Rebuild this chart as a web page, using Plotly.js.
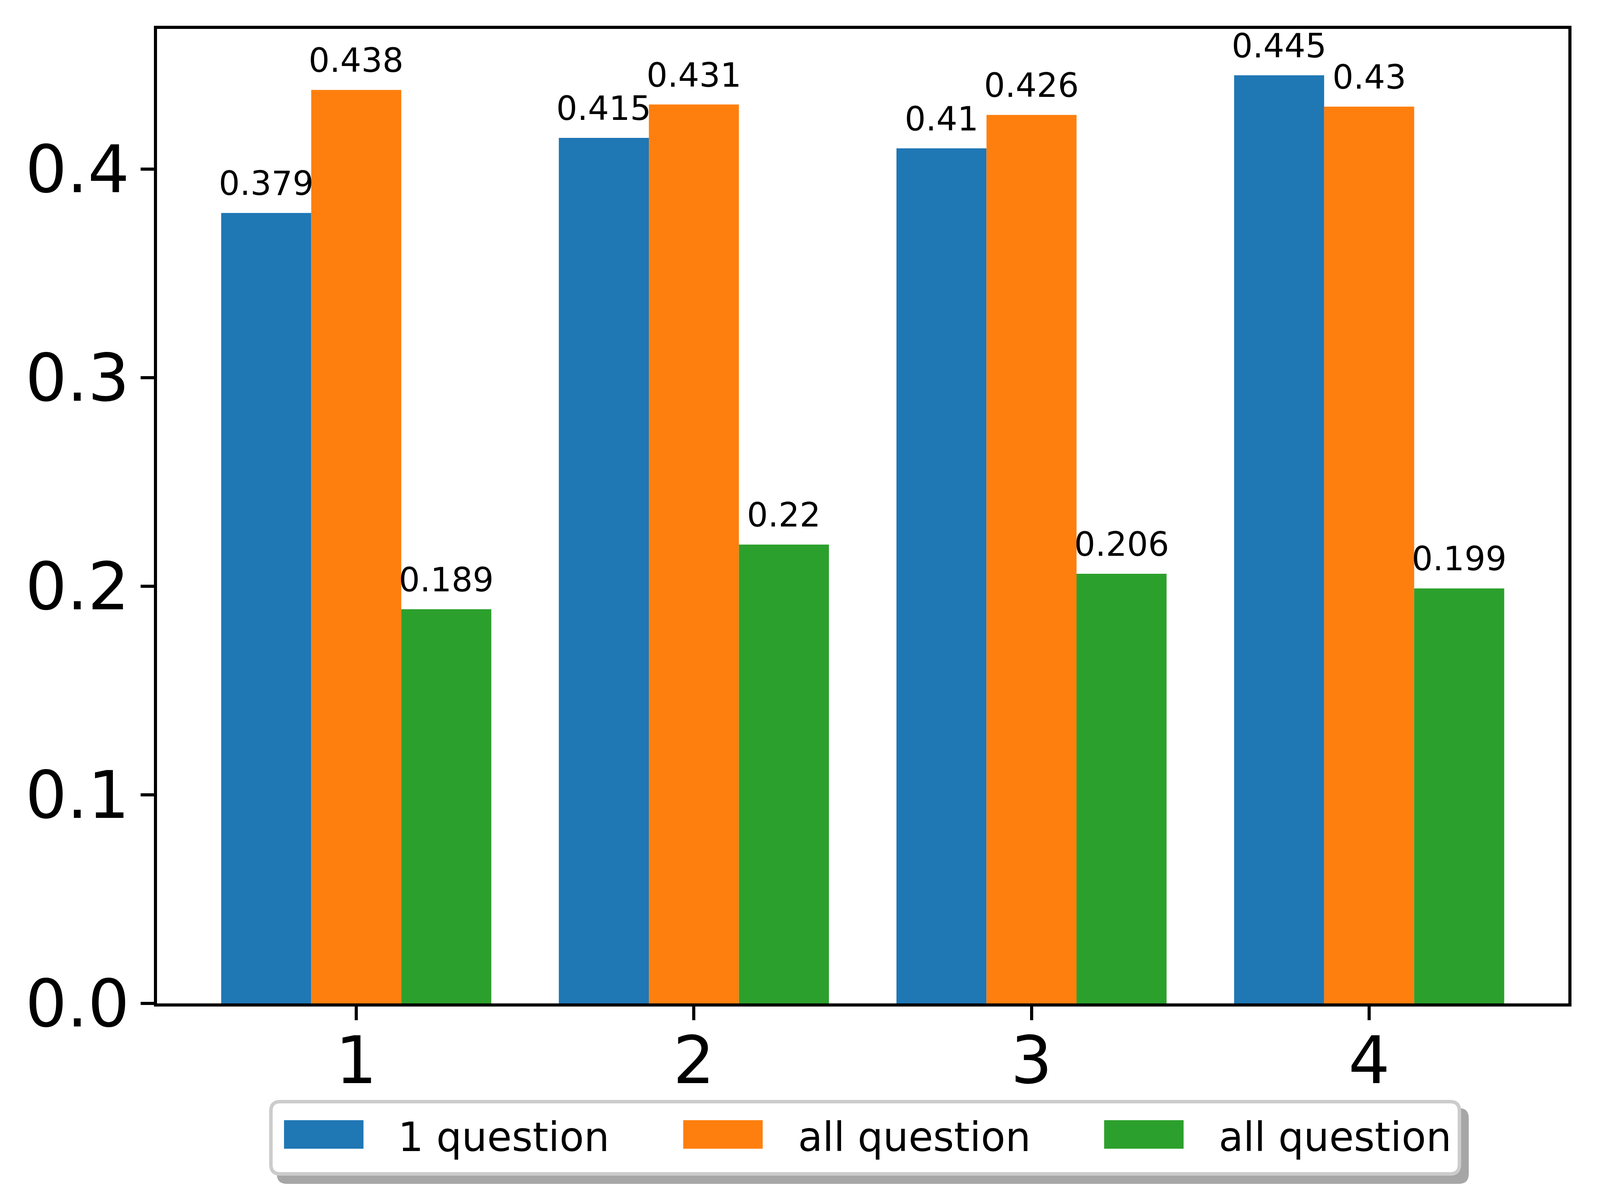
<!DOCTYPE html>
<html>
<head>
<meta charset="utf-8">
<script src="https://cdn.plot.ly/plotly-3.0.1.min.js"></script>
<style>html,body{margin:0;padding:0;background:#fff;overflow:hidden;}</style>
</head>
<body>
<div id="chart"></div>
<script>
// ---- data ----
const categories = [1, 2, 3, 4];
const seriesNames = ['1 question', 'all question', 'all question'];
const seriesA = [0.379, 0.415, 0.41, 0.445];
const seriesB = [0.438, 0.431, 0.426, 0.43];
const seriesC = [0.189, 0.22, 0.206, 0.199];
const colors = ['#1f77b4', '#ff7f0e', '#2ca02c'];
const yTickVals = [0, 0.1, 0.2, 0.3, 0.4];
const yTickText = ['0.0', '0.1', '0.2', '0.3', '0.4'];
const xTickText = ['1', '2', '3', '4'];

// ---- layout geometry (designed for 4208x3080, scaled to the actual viewport) ----
const REF_W = 4208, REF_H = 3080;
const FIG_W = window.innerWidth || REF_W;
const FIG_H = window.innerHeight || REF_H;
const sx = FIG_W / REF_W, sy = FIG_H / REF_H;
const fs = Math.sqrt(sx * sy);
const L = 413 * sx, R = 83 * sx, T = 74 * sy, B = 511 * sy;
const PW = FIG_W - L - R, PH = FIG_H - T - B;
const FONT = 'DejaVu Sans';
const groupW = 0.8;
const barW = groupW / 3;

document.getElementById('chart').style.width = FIG_W + 'px';
document.getElementById('chart').style.height = FIG_H + 'px';

// reference-pixel -> paper coordinates
function pxX(x) { return (x * sx - L) / PW; }
function pxY(y) { return (FIG_H - B - y * sy) / PH; }

function roundRect(x0, y0, x1, y1, r) {
  const X = pxX, Y = pxY;
  return 'M' + X(x0 + r) + ',' + Y(y0) +
    ' L' + X(x1 - r) + ',' + Y(y0) +
    ' Q' + X(x1) + ',' + Y(y0) + ' ' + X(x1) + ',' + Y(y0 + r) +
    ' L' + X(x1) + ',' + Y(y1 - r) +
    ' Q' + X(x1) + ',' + Y(y1) + ' ' + X(x1 - r) + ',' + Y(y1) +
    ' L' + X(x0 + r) + ',' + Y(y1) +
    ' Q' + X(x0) + ',' + Y(y1) + ' ' + X(x0) + ',' + Y(y1 - r) +
    ' L' + X(x0) + ',' + Y(y0 + r) +
    ' Q' + X(x0) + ',' + Y(y0) + ' ' + X(x0 + r) + ',' + Y(y0) + ' Z';
}

const allSeries = [seriesA, seriesB, seriesC];
const traces = allSeries.map((vals, j) => ({
  type: 'bar',
  name: seriesNames[j],
  x: categories,
  y: vals,
  marker: { color: colors[j], line: { width: 0 } },
  showlegend: false,
  hoverinfo: 'x+y'
}));

const annotations = [];
allSeries.forEach((vals, j) => {
  vals.forEach((v, i) => {
    annotations.push({
      x: categories[i] + (j - 1) * barW,
      y: v,
      xref: 'x', yref: 'y',
      text: String(v),
      showarrow: false,
      xanchor: 'center', yanchor: 'bottom',
      yshift: 24 * sy,
      font: { family: FONT, size: 86 * fs, color: '#000' }
    });
  });
});

// custom legend (matplotlib style, below axes)
const legendBox = { x0: 708, y0: 2816, x1: 3843, y1: 3010 };
const swatchX = [747, 1797, 2904];
const textX = [1045, 2097, 3203];
const swatchW = 209, swatchY0 = 2868, swatchY1 = 2941;

const shapes = [];
shapes.push({
  type: 'path', xref: 'paper', yref: 'paper',
  path: roundRect(legendBox.x0 + 20, legendBox.y0 + 21, legendBox.x1 + 20, legendBox.y1 + 21, 26),
  fillcolor: '#a6a6a6', line: { width: 0 }, layer: 'above'
});
shapes.push({
  type: 'path', xref: 'paper', yref: 'paper',
  path: roundRect(legendBox.x0 + 4.5, legendBox.y0 + 4.5, legendBox.x1 - 4.5, legendBox.y1 - 4.5, 24),
  fillcolor: '#ffffff', line: { color: '#cccccc', width: 9 }, layer: 'above'
});
seriesNames.forEach((n, j) => {
  shapes.push({
    type: 'rect', xref: 'paper', yref: 'paper',
    x0: pxX(swatchX[j]), x1: pxX(swatchX[j] + swatchW),
    y0: pxY(swatchY1), y1: pxY(swatchY0),
    fillcolor: colors[j], line: { width: 0 }, layer: 'above'
  });
  annotations.push({
    x: pxX(textX[j]), y: pxY(2911),
    xref: 'paper', yref: 'paper',
    text: n, showarrow: false,
    xanchor: 'left', yanchor: 'middle',
    font: { family: FONT, size: 104 * fs, color: '#000' }
  });
});

const layout = {
  width: FIG_W, height: FIG_H,
  margin: { l: L, r: R, t: T, b: B, pad: 0 },
  paper_bgcolor: '#ffffff', plot_bgcolor: '#ffffff',
  font: { family: FONT, color: '#000' },
  barmode: 'group', bargap: 1 - groupW, bargroupgap: 0,
  showlegend: false,
  xaxis: {
    range: [0.41, 4.59],
    tickmode: 'array', tickvals: categories, ticktext: xTickText,
    ticks: 'outside', ticklen: 35 * sy, tickwidth: 8, tickcolor: '#000',
    showline: true, linecolor: '#000', linewidth: 8, mirror: true,
    showgrid: false, zeroline: false,
    tickfont: { family: FONT, size: 170 * fs, color: '#000' },
    ticklabelstandoff: Math.round(-40 * sy)
  },
  yaxis: {
    range: [0, 0.46725],
    tickmode: 'array', tickvals: yTickVals, ticktext: yTickText,
    ticks: 'outside', ticklen: 35 * sx, tickwidth: 8, tickcolor: '#000',
    showline: true, linecolor: '#000', linewidth: 8, mirror: true,
    showgrid: false, zeroline: false,
    tickfont: { family: FONT, size: 170 * fs, color: '#000' },
    ticklabelstandoff: Math.round(-5 * sx)
  },
  annotations: annotations,
  shapes: shapes
};

Plotly.newPlot('chart', traces, layout, { staticPlot: true, displayModeBar: false });
</script>
</body>
</html>
